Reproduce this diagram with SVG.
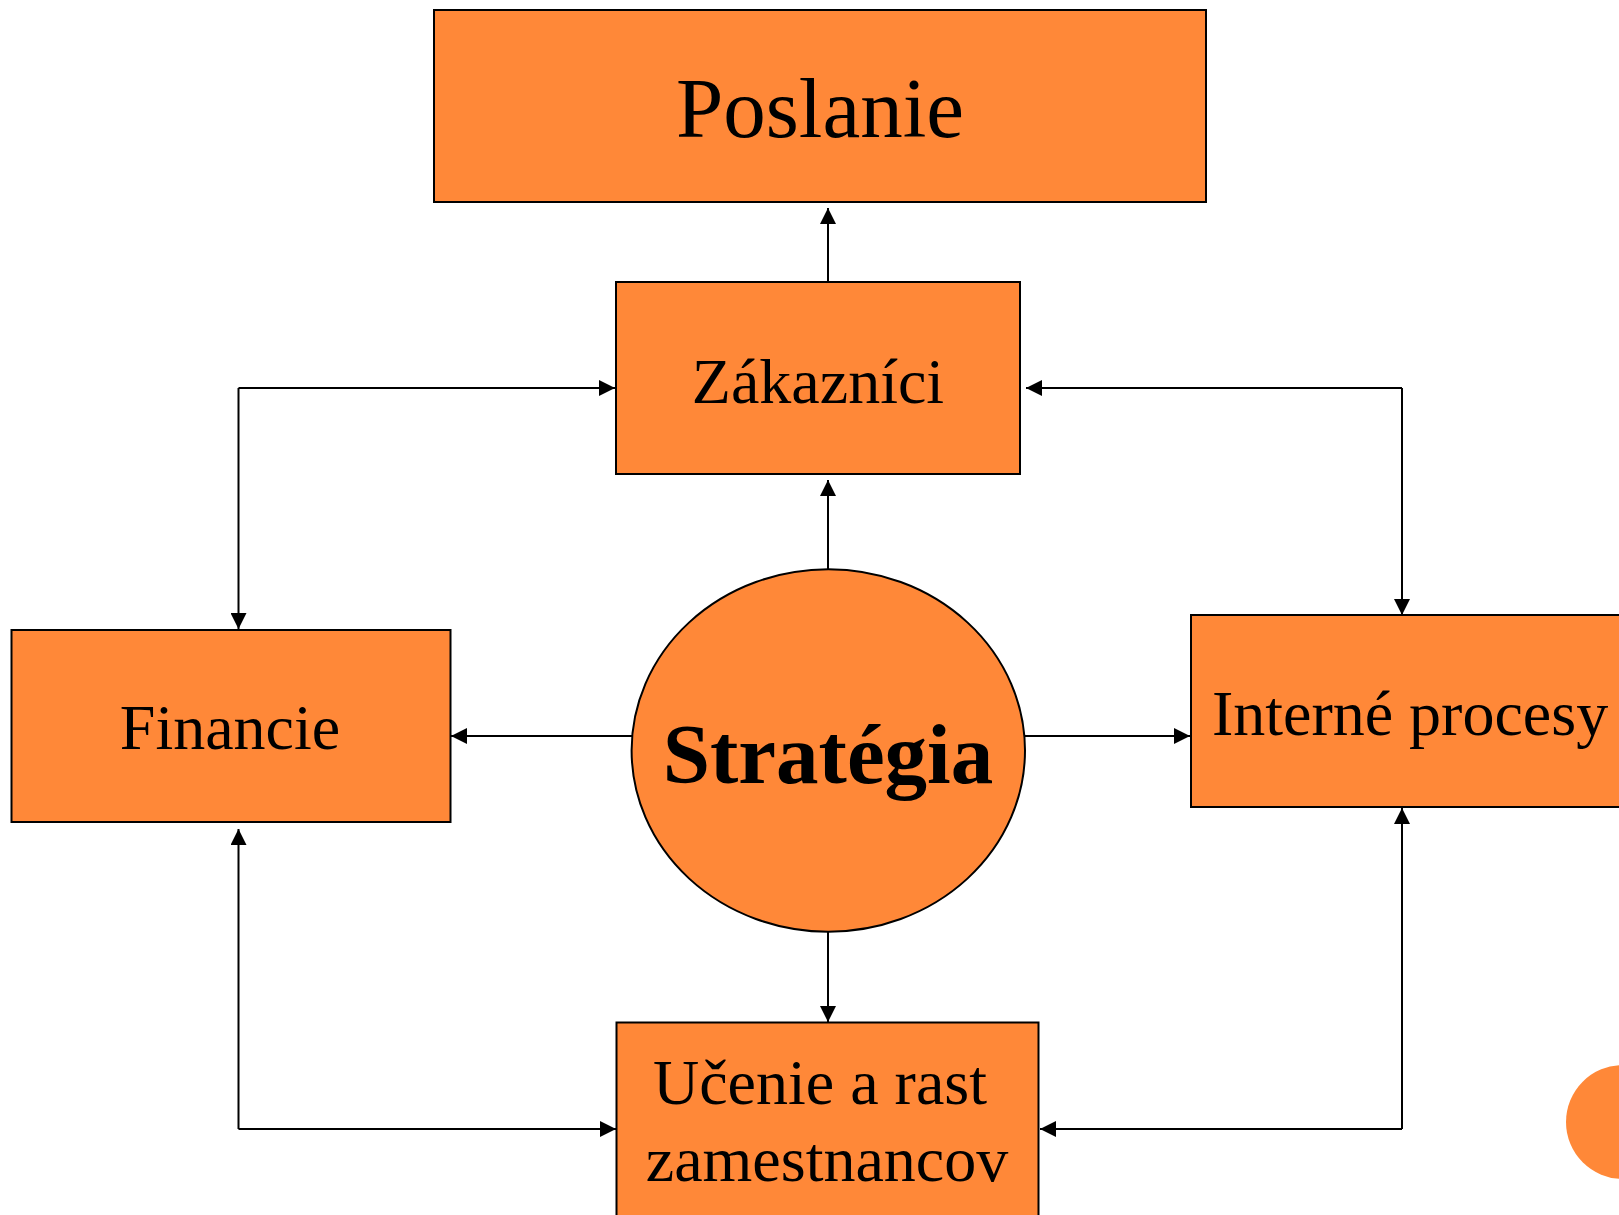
<svg xmlns="http://www.w3.org/2000/svg" width="1619" height="1215" viewBox="0 0 1619 1215">
<style>
.box{fill:#FF8838;stroke:#000;stroke-width:2}
.lbl{font-family:"Liberation Serif","Times New Roman",serif;font-size:64px;fill:#000;text-anchor:middle}
.con{fill:none;stroke:#000;stroke-width:2}
</style>
<defs>
<marker id="ah" markerUnits="userSpaceOnUse" markerWidth="16" markerHeight="16" viewBox="0 0 14 14" refX="14" refY="7" orient="auto">
<path d="M0,0 L14,7 L0,14 Z" fill="#000"/>
</marker>
</defs>
<rect width="1619" height="1215" fill="#fff"/>
<g id="connectors">
<line class="con" x1="828" y1="282" x2="828" y2="208" marker-end="url(#ah)"/>
<line class="con" x1="828" y1="569" x2="828" y2="480" marker-end="url(#ah)"/>
<line class="con" x1="632" y1="736" x2="451" y2="736" marker-end="url(#ah)"/>
<line class="con" x1="1025" y1="736" x2="1190" y2="736" marker-end="url(#ah)"/>
<line class="con" x1="828" y1="932" x2="828" y2="1022" marker-end="url(#ah)"/>
<line class="con" x1="238.5" y1="388" x2="615" y2="388" marker-end="url(#ah)"/>
<line class="con" x1="238.5" y1="388" x2="238.5" y2="629" marker-end="url(#ah)"/>
<line class="con" x1="1402" y1="388" x2="1026" y2="388" marker-end="url(#ah)"/>
<line class="con" x1="1402" y1="388" x2="1402" y2="615" marker-end="url(#ah)"/>
<line class="con" x1="238.5" y1="1129" x2="238.5" y2="829" marker-end="url(#ah)"/>
<line class="con" x1="238.5" y1="1129" x2="616" y2="1129" marker-end="url(#ah)"/>
<line class="con" x1="1402" y1="1129" x2="1040" y2="1129" marker-end="url(#ah)"/>
<line class="con" x1="1402" y1="1129" x2="1402" y2="808" marker-end="url(#ah)"/>
</g>
<g id="poslanie">
<rect class="box" x="434" y="10" width="772" height="192"/>
<text class="lbl" x="820" y="137" style="font-size:85px">Poslanie</text>
</g>
<g id="zakaznici">
<rect class="box" x="616" y="282" width="404" height="192"/>
<text class="lbl" x="818" y="403">Zákazníci</text>
</g>
<g id="financie">
<rect class="box" x="11.5" y="630" width="439" height="192"/>
<text class="lbl" x="230" y="749">Financie</text>
</g>
<g id="interne">
<rect class="box" x="1191" y="615" width="440" height="192"/>
<text class="lbl" x="1410" y="735">Interné procesy</text>
</g>
<g id="ucenie">
<rect class="box" x="616.5" y="1022.5" width="422" height="196"/>
<text class="lbl" x="820" y="1104">Učenie a rast</text>
<text class="lbl" x="827" y="1181">zamestnancov</text>
</g>
<g id="strategia">
<ellipse class="box" cx="828.3" cy="750.5" rx="196.7" ry="181.2"/>
<text class="lbl" x="828" y="783" style="font-size:85px;font-weight:bold">Stratégia</text>
</g>
<circle cx="1623" cy="1122" r="57" fill="#FF8838"/>
</svg>
